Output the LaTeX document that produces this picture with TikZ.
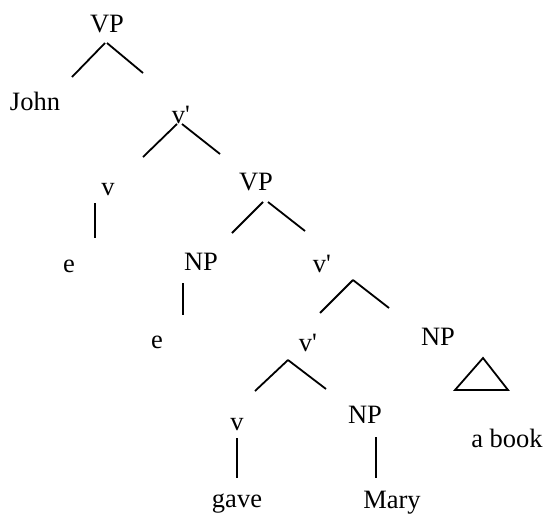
\documentclass[tikz,border=0pt]{standalone}
\usepackage{fontspec}
\setmainfont{Liberation Serif}
\usepackage{tikz}
\usetikzlibrary{positioning}

\begin{document}
\begin{tikzpicture}[x=1pt, y=-1pt,
        cat/.style={anchor=base, inner sep=0pt, font=\fontsize{26.5}{30}\selectfont},
        branch/.style={line width=1.8pt}
      ]
        \useasboundingbox (0,0) rectangle (543,514);

        \node[cat]  (vpA)    at (107,32)   {VP};
        \node[cat]  (john)   at (35,110)   {John};
        \node[cat]  (vbA)    at (181,123)  {v\textquotesingle};
        \node[cat]  (vA)     at (108,195)  {v};
        \node[cat]  (vpB)    at (256,190)  {VP};
        \node[cat]  (eA)     at (69,272)   {e};
        \node[cat]  (npA)    at (201,270)  {NP};
        \node[cat]  (vbB)    at (322,272)  {v\textquotesingle};
        \node[cat]  (eB)     at (157,348)  {e};
        \node[cat]  (vbC)    at (308,351)  {v\textquotesingle};
        \node[cat]  (npB)    at (438,345)  {NP};
        \node[cat]  (vC)     at (237,430)  {v};
        \node[cat]  (npC)    at (365,423)  {NP};
        \node[cat]  (abook)  at (507,447)  {a book};
        \node[cat]  (gave)   at (237,507)  {gave};
        \node[cat]  (mary)   at (392,508)  {Mary};

        \draw[branch]  ([shift={(-2,11)}]vpA.base) -- ([shift={(37,-33)}]john.base);
        \draw[branch]  ([shift={(0,11)}]vpA.base) -- ([shift={(-38,-50)}]vbA.base);
        \draw[branch]  ([shift={(-4,1)}]vbA.base) -- ([shift={(35,-38)}]vA.base);
        \draw[branch]  ([shift={(1,1)}]vbA.base) -- ([shift={(-36,-36)}]vpB.base);
        \draw[branch]  ([shift={(-13,8)}]vA.base) -- ([shift={(26,-34)}]eA.base);
        \draw[branch]  ([shift={(7,12)}]vpB.base) -- ([shift={(31,-37)}]npA.base);
        \draw[branch]  ([shift={(12,12)}]vpB.base) -- ([shift={(-17,-41)}]vbB.base);
        \draw[branch]  ([shift={(-18,13)}]npA.base) -- ([shift={(26,-33)}]eB.base);
        \draw[branch]  ([shift={(31,8)}]vbB.base) -- ([shift={(12,-38)}]vbC.base);
        \draw[branch]  ([shift={(31,8)}]vbB.base) -- ([shift={(-49,-37)}]npB.base);
        \draw[branch]  ([shift={(-20,9)}]vbC.base) -- ([shift={(18,-39)}]vC.base);
        \draw[branch]  ([shift={(-20,9)}]vbC.base) -- ([shift={(-39,-34)}]npC.base);
        \draw[branch]  ([shift={(0,8)}]vC.base) -- ([shift={(0,-29)}]gave.base);
        \draw[branch]  ([shift={(11,14)}]npC.base) -- ([shift={(-16,-30)}]mary.base);

        % triangle over a book
        \draw[branch, line join=miter]  ([shift={(45,13)}]npB.base) -- ([shift={(-52,-57)}]abook.base)
                                        -- ([shift={(1,-57)}]abook.base) -- cycle;
      \end{tikzpicture}
\end{document}
